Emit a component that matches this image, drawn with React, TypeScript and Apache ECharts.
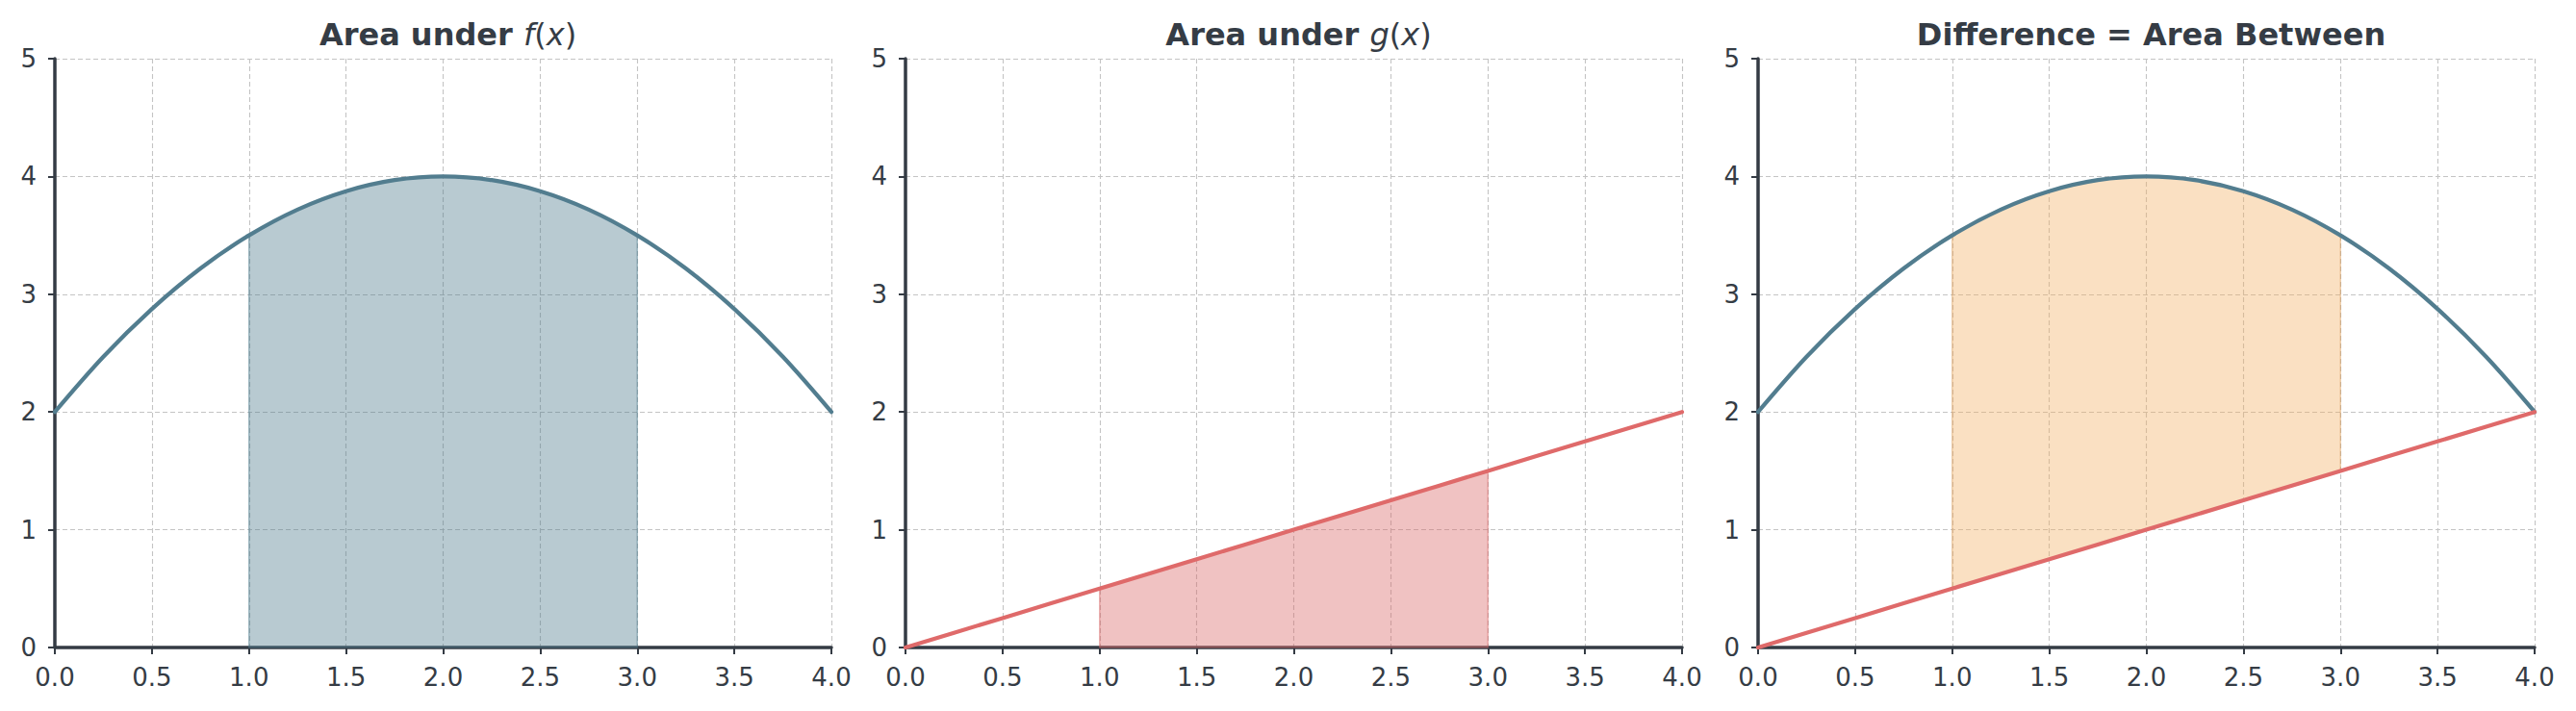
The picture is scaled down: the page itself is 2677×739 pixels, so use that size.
import React, { useEffect, useRef } from "react";
import * as echarts from "echarts";

// ---- data ----
const X_VALUES = [0, 0.25, 0.5, 0.75, 1, 1.25, 1.5, 1.75, 2, 2.25, 2.5, 2.75, 3, 3.25, 3.5, 3.75, 4];
const F_VALUES = [2, 2.469, 2.875, 3.219, 3.5, 3.719, 3.875, 3.969, 4, 3.969, 3.875, 3.719, 3.5, 3.219, 2.875, 2.469, 2];
const G_VALUES = [0, 0.125, 0.25, 0.375, 0.5, 0.625, 0.75, 0.875, 1, 1.125, 1.25, 1.375, 1.5, 1.625, 1.75, 1.875, 2];
const SHADE_FROM = 1;
const SHADE_TO = 3;
const X_TICKS = [0, 0.5, 1, 1.5, 2, 2.5, 3, 3.5, 4];
const Y_TICKS = [0, 1, 2, 3, 4, 5];
const TITLES = ["Area under f(x)", "Area under g(x)", "Difference = Area Between"];

const FONT = "DejaVu Sans";
const TEXT = "#353c45";
const AXIS = "#343b44";
const BLUE = "#527d8f";
const RED = "#df6a6a";
const BLUE_FILL = "rgba(77,122,140,0.4)";
const BLUE_EDGE = "rgba(77,122,140,0.55)";
const RED_FILL = "rgba(217,102,102,0.4)";
const RED_EDGE = "rgba(217,102,102,0.55)";
const ORANGE_FILL = "rgba(242,177,102,0.4)";
const ORANGE_EDGE = "rgba(215,150,80,0.5)";

const App: React.FC = () => {
  const ref = useRef<HTMLDivElement>(null);
  useEffect(() => {
    if (!ref.current) return;
    const chart = echarts.init(ref.current, undefined, { renderer: "svg" });

    const fFull = X_VALUES.map((x, i) => [x, F_VALUES[i]]);
    const gFull = X_VALUES.map((x, i) => [x, G_VALUES[i]]);
    const idx = X_VALUES.map((_, i) => i).filter((i) => X_VALUES[i] >= SHADE_FROM && X_VALUES[i] <= SHADE_TO);
    const fShade = idx.map((i) => [X_VALUES[i], F_VALUES[i]]);
    const gShade = idx.map((i) => [X_VALUES[i], G_VALUES[i]]);
    const zeroShade = idx.map((i) => [X_VALUES[i], 0]);

    const panelLefts = [57, 941, 1827];
    const panelWidth = 807;
    const top = 61;
    const height = 612;

    const grids = panelLefts.map((l) => ({ left: l, top, width: panelWidth, height, containLabel: false }));

    const axisCommon = {
      axisLine: { show: true, onZero: false, lineStyle: { color: AXIS, width: 3.5 } },
      axisTick: { show: true, length: 7, inside: false, lineStyle: { color: AXIS, width: 2 } },
      axisLabel: { color: TEXT, fontFamily: FONT, fontSize: 26, margin: 18 },
      splitLine: { show: true, lineStyle: { color: "#c4c4c4", type: [5, 3], width: 1.1 } },
    };

    const xAxes = panelLefts.map((_, k) => ({
      type: "value",
      gridIndex: k,
      min: X_TICKS[0],
      max: X_TICKS[X_TICKS.length - 1],
      interval: X_TICKS[1] - X_TICKS[0],
      ...axisCommon,
      axisLabel: { ...axisCommon.axisLabel, formatter: (v: number) => v.toFixed(1) },
    }));
    const yAxes = panelLefts.map((_, k) => ({
      type: "value",
      gridIndex: k,
      min: Y_TICKS[0],
      max: Y_TICKS[Y_TICKS.length - 1],
      interval: Y_TICKS[1] - Y_TICKS[0],
      ...axisCommon,
      axisLabel: { ...axisCommon.axisLabel, margin: 19, formatter: (v: number) => String(v) },
    }));

    const fillSeries = (k: number, upper: number[][], lower: number[][], fill: string, edge: string) => ({
      type: "custom",
      coordinateSystem: "cartesian2d",
      xAxisIndex: k,
      yAxisIndex: k,
      silent: true,
      z: 2,
      data: [[SHADE_FROM, SHADE_TO]],
      renderItem: (_params: any, api: any) => {
        const pts = [
          ...upper.map((p) => api.coord(p)),
          ...lower.slice().reverse().map((p) => api.coord(p)),
        ];
        return {
          type: "polygon",
          shape: { points: pts },
          style: { fill, stroke: edge, lineWidth: 1.2 },
        };
      },
    });

    const lineBase = { type: "line", showSymbol: false, symbol: "none", silent: true, z: 4 };
    const curve = { smooth: 0.333 };

    const series: any[] = [
      // panel 1
      fillSeries(0, fShade, zeroShade, BLUE_FILL, BLUE_EDGE),
      { ...lineBase, ...curve, xAxisIndex: 0, yAxisIndex: 0, data: fFull, lineStyle: { color: BLUE, width: 4.2, cap: "round", join: "round" } },
      // panel 2
      fillSeries(1, gShade, zeroShade, RED_FILL, RED_EDGE),
      { ...lineBase, xAxisIndex: 1, yAxisIndex: 1, data: gFull, lineStyle: { color: RED, width: 4.2, cap: "round" } },
      // panel 3
      fillSeries(2, fShade, gShade, ORANGE_FILL, ORANGE_EDGE),
      { ...lineBase, ...curve, xAxisIndex: 2, yAxisIndex: 2, data: fFull, lineStyle: { color: BLUE, width: 4.2, cap: "round", join: "round" } },
      { ...lineBase, xAxisIndex: 2, yAxisIndex: 2, data: gFull, lineStyle: { color: RED, width: 4.2, cap: "round" } },
    ];

    const TS = 32;
    const richTitle = {
      b: { fontFamily: FONT, fontWeight: "bold", fontSize: TS, color: TEXT },
      i: { fontFamily: FONT, fontStyle: "italic", fontWeight: "normal", fontSize: TS, color: TEXT },
      r: { fontFamily: FONT, fontWeight: "normal", fontSize: TS, color: TEXT },
    };
    const titleText = (t: string) => {
      const m = t.match(/^(.*?)([a-z])\(([a-z])\)$/);
      if (m) return `{b|${m[1]}}{i|${m[2]}}{r|(}{i|${m[3]}}{r|)}`;
      return `{b|${t}}`;
    };

    const titles = TITLES.map((t, k) => ({
      text: titleText(t),
      left: panelLefts[k] + panelWidth / 2,
      top: 15,
      textAlign: "center",
      textStyle: { rich: richTitle, fontFamily: FONT, fontSize: TS, fontWeight: "bold", color: TEXT },
    }));

    chart.setOption({
      animation: false,
      backgroundColor: "#ffffff",
      title: titles,
      grid: grids,
      xAxis: xAxes,
      yAxis: yAxes,
      series,
    });
    return () => chart.dispose();
  }, []);

  return (
    <div
      ref={ref}
      style={{ position: "fixed", left: 0, top: 0, width: 2677, height: 739, background: "#fff" }}
    />
  );
};

export default App;
